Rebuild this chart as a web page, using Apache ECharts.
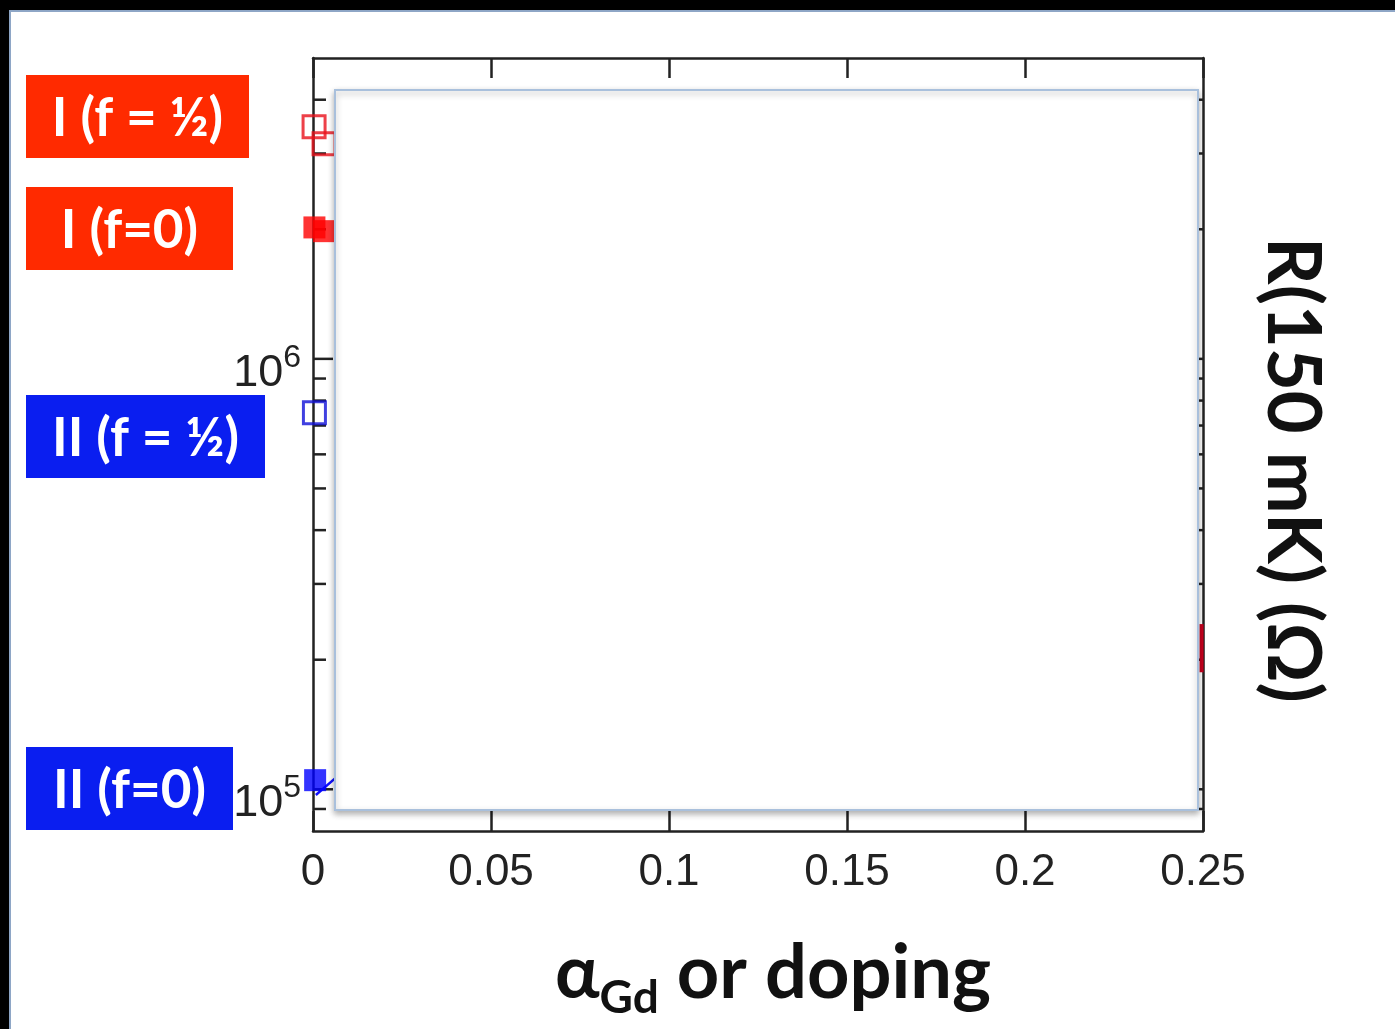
<!DOCTYPE html>
<html><head><meta charset="utf-8">
<script src="https://cdn.jsdelivr.net/npm/echarts@6/dist/echarts.min.js"></script>
<style>html,body{margin:0;padding:0;background:#fff}#c{width:1395px;height:1029px}</style>
</head><body><div id="c"></div>
<script>
// ---- data ----
const xTickValues = [0, 0.05, 0.1, 0.15, 0.2, 0.25];
const yMajorTicks = [1e5, 1e6];
const yMinorTicks = [9e4, 2e5, 3e5, 4e5, 5e5, 6e5, 7e5, 8e5, 9e5, 2e6, 3e6, 4e6];
const groupLabels = ['I (f = ½)', 'I (f=0)', 'II (f = ½)', 'II (f=0)'];
const redOpen = [[0.0003, 3.46e6], [0.0031, 3.16e6]];
const redFilled = [[0.0004, 2.02e6], [0.0031, 1.98e6]];
const blueOpen = [[0.0004, 7.5e5]];
const blueFilled = [[0.0006, 1.05e5]];
const blueLine = [[0.0008, 9.7e4], [0.0062, 1.06e5]];
const redEdge = [[0.2496, 2.42e5], [0.2496, 1.87e5]];

const tickData = yMajorTicks.map(v => [0, v, 1]).concat(yMinorTicks.map(v => [0, v, 0]));
const AX = '#222';

const chart = echarts.init(document.getElementById('c'), null, {renderer: 'canvas'});

function labelBox(x, y, w, h, color, text) {
  return {
    type: 'group', x: x, y: y, z: 120,
    children: [
      {type: 'rect', shape: {x: 0, y: 0, width: w, height: h}, style: {fill: color}},
      {type: 'text', x: w / 2, y: h / 2 + 2, style: {text: text, fill: '#fff', align: 'center', verticalAlign: 'middle',
        fontSize: 53, fontFamily: 'Lato', fontWeight: 'bold'}}
    ]
  };
}

const option = {
  backgroundColor: '#fff',
  animation: false,
  grid: {left: 313, top: 58, width: 890, height: 773, containLabel: false},
  xAxis: [{
    type: 'value', min: 0, max: 0.25, interval: 0.05, position: 'bottom',
    axisLine: {show: true, onZero: false, lineStyle: {color: AX, width: 2.5}},
    axisTick: {show: true, inside: true, length: 20, lineStyle: {color: AX, width: 2.5}},
    axisLabel: {show: true, fontSize: 44, fontFamily: 'Liberation Sans', color: AX, margin: 20,
      formatter: v => String(+v.toFixed(2))},
    splitLine: {show: false},
    name: '{a|α}{s|Gd}{b| or doping}', nameLocation: 'middle', nameGap: 100,
    nameTextStyle: {
      padding: [0, 0, 0, 30],
      rich: {
        a: {fontSize: 74, fontFamily: 'Lato', fontWeight: 'bold', color: '#111', lineHeight: 80, verticalAlign: 'bottom'},
        s: {fontSize: 46, fontFamily: 'Lato', fontWeight: 'bold', color: '#111', lineHeight: 46, verticalAlign: 'bottom', padding: [0, 0, -10, 0]},
        b: {fontSize: 74, fontFamily: 'Lato', fontWeight: 'bold', color: '#111', lineHeight: 80, verticalAlign: 'bottom'}
      }
    }
  }, {
    type: 'value', min: 0, max: 0.25, interval: 0.05, position: 'top',
    axisLine: {show: true, onZero: false, lineStyle: {color: AX, width: 2.5}},
    axisTick: {show: true, inside: true, length: 20, lineStyle: {color: AX, width: 2.5}},
    axisLabel: {show: false}, splitLine: {show: false}
  }],
  yAxis: [{
    type: 'log', logBase: 10, min: 8e4, max: 5e6, position: 'left',
    axisLine: {show: true, onZero: false, lineStyle: {color: AX, width: 2.5}},
    axisTick: {show: false}, splitLine: {show: false}, minorTick: {show: false},
    axisLabel: {
      show: true, margin: 12, color: AX, padding: [20, 0, 0, 0],
      formatter: function (v) {
        const l = Math.log10(v), e = Math.round(l);
        if (Math.abs(l - e) > 1e-6) return '';
        return '{b|10}{s|' + e + '}';
      },
      rich: {
        b: {fontSize: 45, fontFamily: 'Liberation Sans', color: AX, lineHeight: 54, verticalAlign: 'bottom'},
        s: {fontSize: 32, fontFamily: 'Liberation Sans', color: AX, lineHeight: 32, verticalAlign: 'top'}
      }
    }
  }, {
    type: 'log', logBase: 10, min: 8e4, max: 5e6, position: 'right',
    axisLine: {show: true, onZero: false, lineStyle: {color: AX, width: 2.5}},
    axisTick: {show: false}, axisLabel: {show: false}, splitLine: {show: false}
  }],
  series: [
    {
      type: 'custom', xAxisIndex: 0, yAxisIndex: 0, data: tickData, clip: false, z: 3,
      renderItem: function (params, api) {
        const v = api.value(1), major = api.value(2) === 1;
        const len = major ? 20 : 13;
        const pL = api.coord([0, v]);
        const pR = api.coord([0.25, v]);
        const st = {stroke: AX, lineWidth: 2.5};
        return {type: 'group', children: [
          {type: 'line', shape: {x1: pL[0], y1: pL[1], x2: pL[0] + len, y2: pL[1]}, style: st},
          {type: 'line', shape: {x1: pR[0], y1: pR[1], x2: pR[0] - len, y2: pR[1]}, style: st}
        ]};
      }
    },
    {type: 'line', data: blueLine, showSymbol: false, clip: false, z: 4,
      lineStyle: {color: '#1010ff', width: 2.5}},
    {type: 'line', data: redEdge, showSymbol: false, clip: false, z: 4,
      lineStyle: {color: '#c8001e', width: 4}},
    {type: 'scatter', data: redOpen, symbol: 'rect', symbolSize: 22, clip: false, z: 5,
      itemStyle: {color: 'rgba(0,0,0,0)', borderColor: '#e8101a', borderWidth: 3}},
    {type: 'scatter', data: redFilled, symbol: 'rect', symbolSize: 22, clip: false, z: 5,
      itemStyle: {color: '#ff0000'}},
    {type: 'scatter', data: blueOpen, symbol: 'rect', symbolSize: 22, clip: false, z: 5,
      itemStyle: {color: 'rgba(0,0,0,0)', borderColor: '#1010d8', borderWidth: 3}},
    {type: 'scatter', data: blueFilled, symbol: 'rect', symbolSize: 22, clip: false, z: 5,
      itemStyle: {color: '#0000ff'}}
  ],
  graphic: {elements: [
    {type: 'rect', z: 100, shape: {x: 0, y: 0, width: 1395, height: 10}, style: {fill: '#000'}},
    {type: 'rect', z: 100, shape: {x: 0, y: 0, width: 9, height: 1029}, style: {fill: '#000'}},
    {type: 'line', z: 100, shape: {x1: 9, y1: 11, x2: 1395, y2: 11}, style: {stroke: '#8ea6c6', lineWidth: 2}},
    {type: 'line', z: 100, shape: {x1: 10, y1: 10, x2: 10, y2: 1029}, style: {stroke: '#8ea6c6', lineWidth: 2}},
    {type: 'rect', z: 100, shape: {x: 335, y: 90, width: 863, height: 720},
      style: {fill: '#fff', stroke: '#a9c0dc', lineWidth: 2, shadowBlur: 6, shadowOffsetY: 3, shadowColor: 'rgba(0,0,0,0.3)'}},
    labelBox(26, 75, 223, 83, '#ff2a00', groupLabels[0]),
    labelBox(26, 187, 207, 83, '#ff2a00', groupLabels[1]),
    labelBox(26, 395, 239, 83, '#0a1ef0', groupLabels[2]),
    labelBox(26, 747, 207, 83, '#0a1ef0', groupLabels[3]),
    {type: 'text', z: 100, x: 1292, y: 470, rotation: -Math.PI / 2,
      style: {text: 'R(150 mK) (Ω)', fill: '#111', align: 'center', verticalAlign: 'middle',
        fontSize: 74, fontFamily: 'Lato', fontWeight: 'bold'}}
  ]}
};
chart.setOption(option);
</script></body></html>
